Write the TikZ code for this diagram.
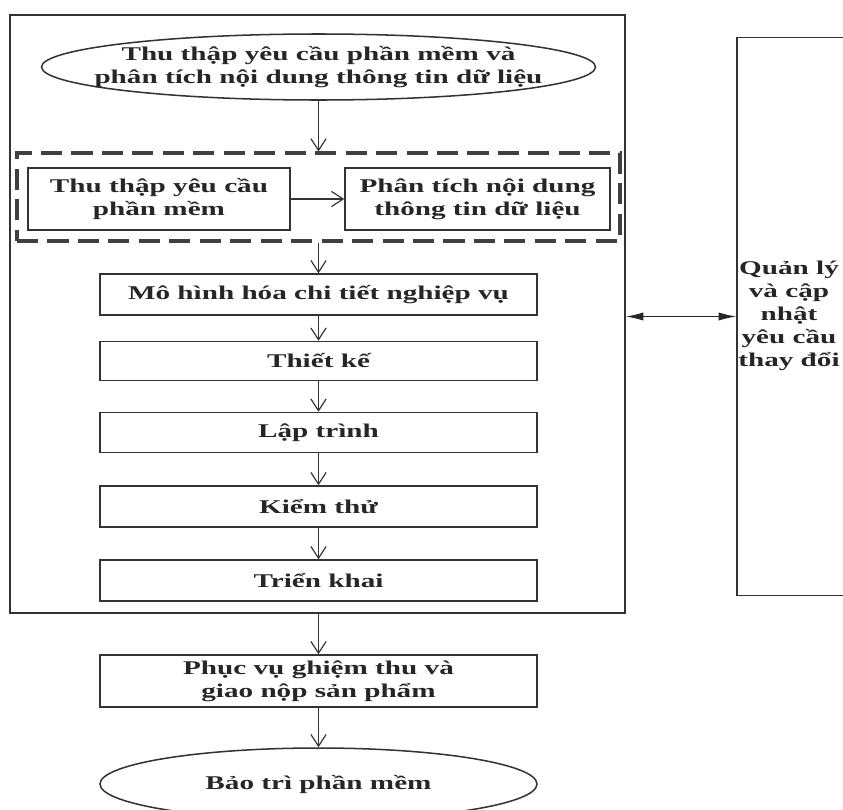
\documentclass[tikz,border=0pt]{standalone}
\usepackage{fontspec}
\setmainfont{Liberation Serif}[FakeStretch=1.5]
\usetikzlibrary{arrows.meta,shapes.geometric}
\newdimen\upx \upx=0.03cm

\begin{document}
\begin{tikzpicture}[x=0.03cm,y=-0.03cm,
  lbl/.style={font=\fontsize{16.6}{19.5}\selectfont\bfseries, align=center, inner sep=0pt, text=black!85},
  frame/.style={draw=black!80, line width=1.3pt, rectangle, inner sep=0pt},
  procbox/.style={frame, lbl, minimum width=437*\upx},
  oval/.style={draw=black!80, line width=1.3pt, ellipse, inner sep=0pt},
  grpbox/.style={draw=black!75, line width=2.6pt, dash pattern=on 18pt off 8pt, rectangle, inner sep=0pt},
  flow/.style={draw=black!80, line width=1pt, -{Straight Barb[length=10pt,width=13pt]}},
  sync/.style={draw=black!85, line width=1pt, {Latex[length=15pt,width=7pt]}-{Latex[length=15pt,width=7pt]}}]

\useasboundingbox (0,0) rectangle (843,809);
\clip (0,0) rectangle (843,809);

% main process frame
\node[frame, minimum width=615*\upx, minimum height=598*\upx] (outer) at (317.5,314) {};

% opening step
\node[oval, minimum width=554*\upx, minimum height=66*\upx] (start) at (318.5,67) {};
\node[lbl] (startlbl) at (start) {Thu thập yêu cầu phần mềm và\\phân tích nội dung thông tin dữ liệu};

% grouped analysis steps
\node[grpbox, minimum width=603*\upx, minimum height=88*\upx] (grp) at (318.5,197) {};
\node[frame, lbl, minimum width=262*\upx, minimum height=62*\upx] (collect) at (159,199) {Thu thập yêu cầu\\phần mềm};
\node[frame, lbl, minimum width=265*\upx, minimum height=62*\upx] (analyse) at (477.5,199) {Phân tích nội dung\\thông tin dữ liệu};

% sequential phases
\node[procbox, minimum height=41*\upx] (model) at (318.5,294.5) {Mô hình hóa chi tiết nghiệp vụ};
\node[procbox, minimum height=39*\upx] (design) at (318.5,361) {Thiết kế};
\node[procbox, minimum height=40*\upx] (code) at (318.5,432.5) {Lập trình};
\node[procbox, minimum height=41*\upx] (test) at (318.5,506.5) {Kiểm thử};
\node[procbox, minimum height=41*\upx] (deploy) at (318.5,580.5) {Triển khai};

% after the frame
\node[procbox, minimum height=52*\upx] (accept) at (318.5,681) {Phục vụ ghiệm thu và\\giao nộp sản phẩm};
\node[oval, minimum width=437*\upx, minimum height=72*\upx] (maint) at (318.5,784) {};
\node[lbl] (maintlbl) at (maint) {Bảo trì phần mềm};

% change management
\node[frame, minimum width=111*\upx, minimum height=558*\upx] (mgr) at (792.5,316.5) {};
\node[lbl] (mgrlbl) at (789,316) {Quản lý\\và cập\\nhật\\yêu cầu\\thay đổi};

% connectors
\draw[flow] (start) -- (grp.north);
\draw[flow] (collect) -- (analyse);
\draw[flow] (grp.south) -- (model);
\draw[flow] (model) -- (design);
\draw[flow] (design) -- (code);
\draw[flow] (code) -- (test);
\draw[flow] (test) -- (deploy);
\draw[flow] (outer.south -| accept.north) -- (accept);
\draw[flow] (accept) -- (maint);
\draw[sync] (outer.east |- mgr.west) -- (mgr.west);
\end{tikzpicture}
\end{document}
